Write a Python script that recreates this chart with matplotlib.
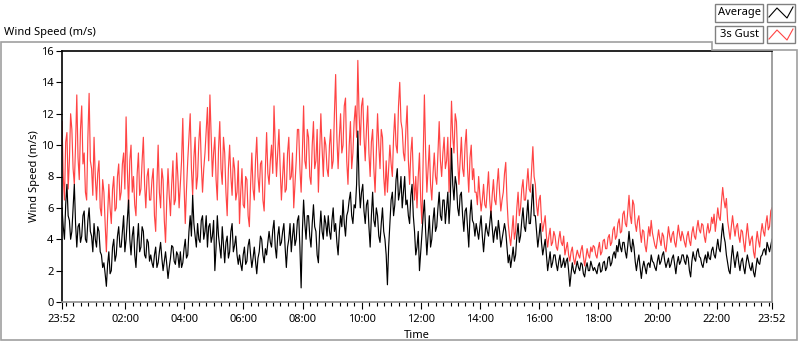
import matplotlib.pyplot as plt
import numpy as np
from matplotlib.patches import Rectangle, Polygon
from matplotlib.lines import Line2D

# wind speed (m/s), one value every 2.5 minutes starting at 23:52 (one row per hour)
gust = [
    11.5, 8.0, 6.5, 10.2, 10.8, 7.2, 9.0, 12.0, 11.0, 8.5, 7.5, 10.0, 13.2, 9.2, 7.8, 11.0, 12.5, 8.8, 9.5, 7.0, 6.5, 10.5, 13.3, 9.0,
    8.5, 6.8, 10.5, 8.0, 6.5, 8.2, 9.0, 6.0, 5.5, 7.8, 7.0, 5.0, 3.2, 5.5, 7.5, 6.0, 5.0, 7.2, 8.0, 5.8, 6.0, 8.0, 8.8, 6.5,
    7.0, 8.8, 9.5, 7.2, 11.8, 8.5, 6.0, 9.0, 10.0, 7.0, 8.0, 6.2, 5.5, 8.2, 9.5, 6.8, 7.2, 9.0, 10.5, 7.5, 6.0, 8.0, 8.5, 6.5,
    6.5, 7.8, 8.5, 5.5, 4.5, 7.5, 10.0, 7.0, 6.0, 8.5, 7.8, 5.2, 3.8, 6.5, 8.5, 6.8, 5.5, 7.5, 9.0, 6.2, 6.5, 9.5, 8.0, 6.0,
    7.5, 9.0, 11.7, 7.5, 5.0, 7.2, 9.0, 10.5, 12.0, 8.5, 6.8, 9.2, 10.5, 7.2, 8.0, 10.2, 11.5, 8.8, 7.0, 8.5, 9.5, 11.0, 12.4, 9.0,
    13.2, 10.5, 8.0, 9.5, 10.5, 7.8, 6.5, 9.8, 11.5, 8.5, 7.5, 10.5, 9.5, 7.0, 5.5, 8.5, 10.0, 8.0, 6.8, 9.2, 8.5, 6.5, 7.0, 9.0,
    5.0, 7.0, 8.5, 6.2, 6.0, 8.0, 7.8, 5.5, 4.8, 7.5, 9.5, 7.2, 6.5, 9.0, 10.5, 8.0, 7.0, 8.8, 9.0, 6.5, 5.8, 8.5, 10.8, 8.2,
    7.5, 9.0, 10.0, 8.2, 12.5, 10.0, 8.0, 9.5, 11.0, 8.5, 6.5, 8.0, 9.5, 7.0, 7.2, 9.5, 10.5, 7.8, 8.0, 9.5, 6.0, 7.5, 9.0, 11.0,
    11.0, 8.5, 7.0, 9.5, 12.5, 9.0, 8.5, 11.0, 10.5, 8.0, 7.5, 10.0, 11.5, 8.5, 9.0, 11.0, 7.0, 9.5, 12.0, 9.8, 8.0, 10.5, 10.0, 8.5,
    8.0, 10.0, 11.0, 8.5, 9.0, 12.0, 14.5, 10.5, 8.5, 10.5, 12.0, 9.5, 10.0, 12.5, 13.0, 9.0, 7.5, 10.0, 11.5, 8.5, 9.5, 11.5, 12.5, 10.5,
    15.4, 12.0, 10.0, 12.5, 13.0, 10.5, 9.0, 11.0, 12.5, 9.5, 8.0, 10.2, 11.0, 8.5, 7.0, 9.5, 12.0, 10.0, 8.5, 11.0, 10.5, 8.0, 6.8, 9.0,
    7.0, 8.5, 10.0, 8.8, 8.0, 10.5, 12.0, 10.0, 9.5, 12.5, 14.0, 11.5, 11.0, 9.5, 9.0, 11.0, 12.5, 9.0, 7.5, 9.5, 10.5, 8.0, 6.5, 8.0,
    6.0, 8.0, 9.5, 6.5, 5.0, 9.0, 13.2, 9.5, 7.0, 8.5, 10.0, 7.5, 6.5, 8.2, 9.5, 8.0, 7.5, 9.5, 11.5, 9.0, 8.0, 9.5, 10.5, 8.5,
    9.0, 10.5, 7.0, 9.5, 12.8, 10.5, 9.5, 12.0, 11.5, 9.0, 7.5, 9.0, 10.5, 8.5, 8.0, 10.0, 11.0, 8.5, 7.0, 9.2, 10.0, 7.8, 8.5, 7.0,
    7.0, 6.2, 8.0, 6.8, 5.8, 6.5, 7.5, 6.2, 6.0, 7.2, 8.3, 6.5, 5.5, 6.8, 7.8, 6.5, 6.2, 7.5, 8.5, 7.0, 5.8, 6.5, 7.0, 8.2,
    8.9, 6.5, 5.0, 4.2, 3.6, 4.5, 5.5, 4.0, 4.5, 6.0, 7.0, 5.5, 6.0, 7.2, 7.8, 6.5, 6.5, 7.5, 8.5, 7.2, 7.0, 8.5, 9.9, 8.0,
    7.5, 6.2, 5.5, 6.5, 6.8, 5.2, 4.5, 5.0, 5.5, 4.2, 3.5, 4.2, 4.7, 3.6, 3.8, 4.5, 4.2, 3.5, 3.3, 4.0, 4.5, 3.8, 3.6, 4.2,
    3.0, 3.4, 3.8, 3.0, 2.6, 3.2, 3.5, 2.8, 2.4, 2.9, 3.3, 3.0, 2.8, 3.3, 3.6, 2.9, 2.3, 2.8, 3.4, 3.0, 2.8, 3.5, 3.2, 3.6,
    3.5, 3.0, 2.8, 3.4, 3.8, 3.0, 3.2, 3.9, 4.0, 3.4, 3.4, 4.1, 4.3, 3.6, 3.8, 4.6, 4.8, 4.0, 4.2, 5.0, 5.3, 4.4, 4.5, 5.6,
    5.8, 5.0, 4.8, 5.8, 6.8, 5.5, 5.0, 6.5, 6.2, 5.0, 4.5, 5.2, 5.5, 4.5, 3.8, 4.6, 4.5, 3.6, 3.2, 4.0, 4.8, 4.2, 5.2, 4.4,
    4.0, 3.6, 3.4, 4.0, 4.6, 4.0, 3.6, 4.4, 4.2, 3.5, 3.2, 4.0, 4.8, 4.2, 3.8, 4.3, 4.5, 3.8, 3.5, 4.2, 4.9, 4.3, 3.9, 4.5,
    4.2, 3.8, 3.5, 4.2, 4.5, 3.9, 3.6, 4.4, 4.8, 4.2, 4.0, 4.7, 5.2, 4.6, 4.4, 5.0, 4.9, 4.2, 3.8, 4.5, 5.0, 4.4, 4.6, 5.4,
    5.0, 5.6, 4.5, 5.2, 6.0, 5.4, 5.2, 6.4, 7.3, 6.5, 6.0, 6.6, 5.2, 4.6, 4.0, 4.8, 5.5, 4.8, 4.2, 4.8, 5.0, 4.2, 3.8, 4.6,
    4.5, 3.8, 3.2, 4.2, 5.0, 4.2, 3.6, 4.0, 4.2, 3.2, 2.8, 3.8, 4.5, 3.9, 3.5, 4.4, 5.0, 4.5, 4.2, 5.0, 5.5, 4.6, 4.8, 5.8,
    6.0,
]
average = [
    6.0, 4.8, 4.0, 6.2, 7.5, 5.5, 5.2, 4.0, 4.5, 6.0, 7.5, 5.0, 3.5, 4.8, 5.0, 3.8, 4.2, 5.5, 5.8, 4.0, 3.8, 5.2, 6.0, 4.5,
    4.2, 3.2, 5.0, 4.0, 3.5, 4.8, 4.5, 3.2, 3.0, 2.2, 2.5, 1.8, 1.0, 2.4, 3.2, 1.8, 2.0, 3.5, 4.0, 2.6, 3.0, 4.2, 4.8, 3.5,
    3.5, 4.5, 5.5, 3.2, 4.0, 5.2, 6.5, 4.0, 3.0, 4.2, 4.8, 3.0, 2.2, 3.8, 5.0, 3.2, 3.5, 4.8, 4.5, 3.0, 2.8, 4.0, 3.8, 2.6,
    3.0, 2.5, 2.2, 3.0, 3.5, 2.2, 2.5, 3.2, 3.8, 2.8, 2.0, 2.6, 3.2, 2.4, 1.5, 2.2, 2.8, 3.6, 3.5, 2.6, 2.4, 3.2, 3.0, 2.2,
    3.2, 2.2, 2.5, 3.4, 4.0, 2.8, 3.0, 4.5, 5.5, 4.2, 6.8, 5.0, 4.2, 3.5, 5.0, 4.0, 3.8, 5.2, 5.5, 4.0, 4.5, 5.5, 3.5, 4.8,
    5.0, 3.8, 4.2, 5.2, 2.0, 3.5, 5.5, 4.2, 3.5, 2.8, 4.8, 3.6, 2.5, 3.8, 4.2, 2.8, 3.2, 4.5, 5.0, 3.2, 3.6, 4.2, 3.0, 2.4,
    3.0, 2.4, 2.0, 3.0, 3.5, 2.4, 2.6, 3.6, 4.0, 3.0, 2.2, 2.8, 3.5, 2.6, 1.8, 2.8, 3.2, 4.2, 4.0, 3.0, 2.5, 3.4, 3.0, 3.8,
    4.5, 3.8, 3.5, 4.6, 5.2, 3.5, 2.8, 4.2, 4.8, 3.6, 3.8, 4.5, 5.0, 3.5, 2.2, 3.5, 4.0, 5.0, 3.2, 4.2, 5.0, 3.6, 4.0, 5.2,
    5.5, 3.5, 0.9, 4.5, 6.5, 5.0, 4.0, 5.5, 5.5, 4.2, 3.5, 5.0, 6.2, 4.8, 4.5, 3.0, 2.5, 4.5, 5.8, 4.5, 4.0, 5.5, 5.0, 4.2,
    5.5, 4.5, 4.0, 5.2, 6.0, 4.5, 5.0, 3.8, 3.0, 4.5, 5.5, 4.8, 6.5, 5.0, 4.2, 5.5, 5.8, 6.5, 7.0, 5.5, 5.0, 6.2, 6.0, 7.5,
    10.9, 7.5, 6.0, 7.0, 7.5, 5.8, 5.0, 6.2, 6.5, 4.8, 3.5, 5.5, 7.0, 5.2, 4.8, 6.0, 5.5, 4.2, 3.8, 5.0, 6.0, 4.5, 4.0, 3.0,
    1.1, 3.5, 5.0, 6.5, 7.0, 5.5, 6.2, 7.8, 8.5, 6.5, 7.0, 8.0, 6.0, 7.0, 8.0, 6.2, 6.5, 5.5, 5.0, 6.8, 7.5, 5.5, 4.5, 3.0,
    3.5, 4.5, 2.0, 3.2, 4.5, 5.5, 6.5, 4.5, 3.0, 4.2, 5.5, 3.5, 4.0, 5.2, 6.0, 4.5, 4.8, 6.0, 7.0, 5.5, 5.2, 6.5, 6.5, 5.0,
    6.0, 7.0, 5.0, 6.5, 9.8, 7.5, 6.5, 8.0, 7.5, 6.0, 5.5, 6.8, 7.0, 5.5, 4.5, 5.8, 6.0, 4.8, 3.5, 5.5, 6.5, 5.2, 5.0, 4.2,
    5.0, 4.5, 4.0, 4.8, 5.5, 4.2, 3.2, 4.2, 5.0, 4.5, 4.2, 5.0, 5.8, 4.8, 3.8, 4.5, 4.8, 4.0, 5.2, 4.5, 3.5, 4.0, 4.5, 5.0,
    4.5, 3.5, 2.5, 3.0, 2.2, 2.8, 3.5, 2.6, 3.0, 4.2, 5.0, 3.8, 4.2, 5.2, 6.0, 4.8, 4.5, 5.5, 6.5, 5.0, 5.0, 6.2, 7.5, 5.5,
    5.5, 4.5, 3.5, 4.2, 5.0, 3.8, 3.0, 3.5, 4.0, 3.0, 2.0, 2.6, 3.2, 2.2, 2.5, 3.0, 3.0, 2.4, 2.0, 2.6, 3.0, 2.2, 2.4, 2.8,
    2.2, 2.6, 2.8, 2.0, 1.0, 1.8, 2.5, 2.0, 1.8, 2.2, 2.6, 2.2, 2.0, 2.5, 2.4, 1.8, 1.6, 2.2, 2.5, 2.0, 2.0, 2.6, 2.3, 2.0,
    2.2, 2.0, 1.8, 2.3, 2.5, 1.9, 2.0, 2.5, 2.6, 2.0, 2.2, 2.8, 2.9, 2.3, 2.5, 3.0, 3.2, 2.8, 3.6, 3.2, 4.0, 3.5, 3.2, 3.8,
    3.8, 3.2, 2.8, 3.6, 4.5, 3.6, 3.2, 4.0, 3.5, 2.6, 2.0, 2.6, 3.0, 2.2, 1.5, 2.2, 2.6, 2.2, 1.8, 2.4, 2.5, 2.2, 3.0, 2.6,
    2.5, 2.2, 2.0, 2.6, 3.0, 2.4, 2.6, 3.0, 3.2, 2.6, 2.2, 2.5, 2.8, 2.2, 2.4, 2.8, 3.0, 2.4, 1.8, 2.5, 2.9, 2.4, 2.6, 3.0,
    3.0, 2.6, 2.4, 3.0, 2.8, 2.0, 1.6, 2.6, 3.2, 2.8, 2.6, 3.2, 3.4, 2.9, 2.8, 2.4, 2.2, 2.7, 3.0, 2.5, 3.2, 2.8, 2.7, 3.3,
    3.5, 3.0, 2.8, 3.4, 4.0, 3.4, 3.2, 4.2, 5.0, 4.2, 3.8, 3.0, 2.5, 2.0, 1.8, 2.8, 3.6, 2.8, 2.2, 2.8, 3.2, 2.5, 2.0, 2.6,
    2.8, 2.2, 1.8, 2.5, 3.0, 2.6, 2.2, 2.0, 2.5, 1.9, 1.6, 2.2, 2.8, 2.5, 2.4, 2.9, 3.0, 3.3, 3.4, 3.0, 3.8, 3.5, 3.2, 3.6,
    4.0,
]
minutes = np.arange(len(gust)) * 2.5

tick_labels = ['23:52', '02:00', '04:00', '06:00', '08:00', '10:00', '12:00',
               '14:00', '16:00', '18:00', '20:00', '22:00', '23:52']
major_ticks = [0] + [128 + 120 * k for k in range(11)] + [1440]
minor_ticks = np.arange(8, 1440, 15)

W, H = 800, 342
def px(x, y):
    return (x / W, 1 - y / H)

plt.rcParams['font.family'] = 'Noto Sans'
fig = plt.figure(figsize=(W / 100, H / 100), dpi=100)

# outer gray frame, notched where the legend sits
frame = Polygon([px(1, 42), px(712, 42), px(712, 50), px(797, 50),
                 px(797, 340), px(1, 340)], closed=True, fill=False,
                edgecolor='#a0a0a0', lw=1.2, transform=fig.transFigure)
fig.patches.append(frame)
fig.text(*px(4, 32), 'Wind Speed (m/s)', fontsize=8, va='center', ha='left')

ax = fig.add_axes([62 / W, 1 - 302 / H, 710 / W, 251 / H])
ax.plot(minutes, gust, color='#ff4444', lw=0.85)
ax.plot(minutes, average, color='black', lw=0.85)

ax.set_xlim(0, 1440)
ax.set_ylim(0, 16)
ax.set_yticks(range(0, 17, 2))
ax.set_xticks(major_ticks)
ax.set_xticklabels(tick_labels)
ax.set_xticks(minor_ticks, minor=True)
ax.tick_params(axis='both', labelsize=8, direction='out', width=0.8)
ax.tick_params(axis='y', length=4, pad=2)
ax.tick_params(axis='x', which='major', length=5, pad=4)
ax.tick_params(axis='x', which='minor', length=3, width=0.8)
ax.set_ylabel('Wind Speed (m/s)', fontsize=8, labelpad=1)
ax.set_xlabel('Time', fontsize=8, labelpad=3)
ax.spines['left'].set_color('black')
ax.spines['top'].set_color('black')
ax.spines['bottom'].set_color('#909090')
ax.spines['right'].set_color('#909090')
for s in ax.spines.values():
    s.set_linewidth(1.2)

# legend: name boxes plus small sample boxes
legend_items = [('Average', 'black', 4, 22), ('3s Gust', '#ff4444', 26, 43)]
for name, col, y0, y1 in legend_items:
    fig.patches.append(Rectangle(px(715, y1), 48 / W, (y1 - y0) / H, fill=False,
                                 edgecolor='#808080', lw=1, transform=fig.transFigure))
    fig.text(*px(739, (y0 + y1) / 2), name, fontsize=8, ha='center', va='center')
    fig.patches.append(Rectangle(px(767, y1), 28 / W, (y1 - y0) / H, fill=False,
                                 edgecolor='#808080', lw=1, transform=fig.transFigure))
    pts = [px(769, y0 + 13), px(777, y0 + 4), px(787, y0 + 14), px(793, y0 + 3)]
    fig.lines.append(Line2D([p[0] for p in pts], [p[1] for p in pts], color=col,
                            lw=0.8, transform=fig.transFigure))

fig.savefig('out.png', dpi=100)
